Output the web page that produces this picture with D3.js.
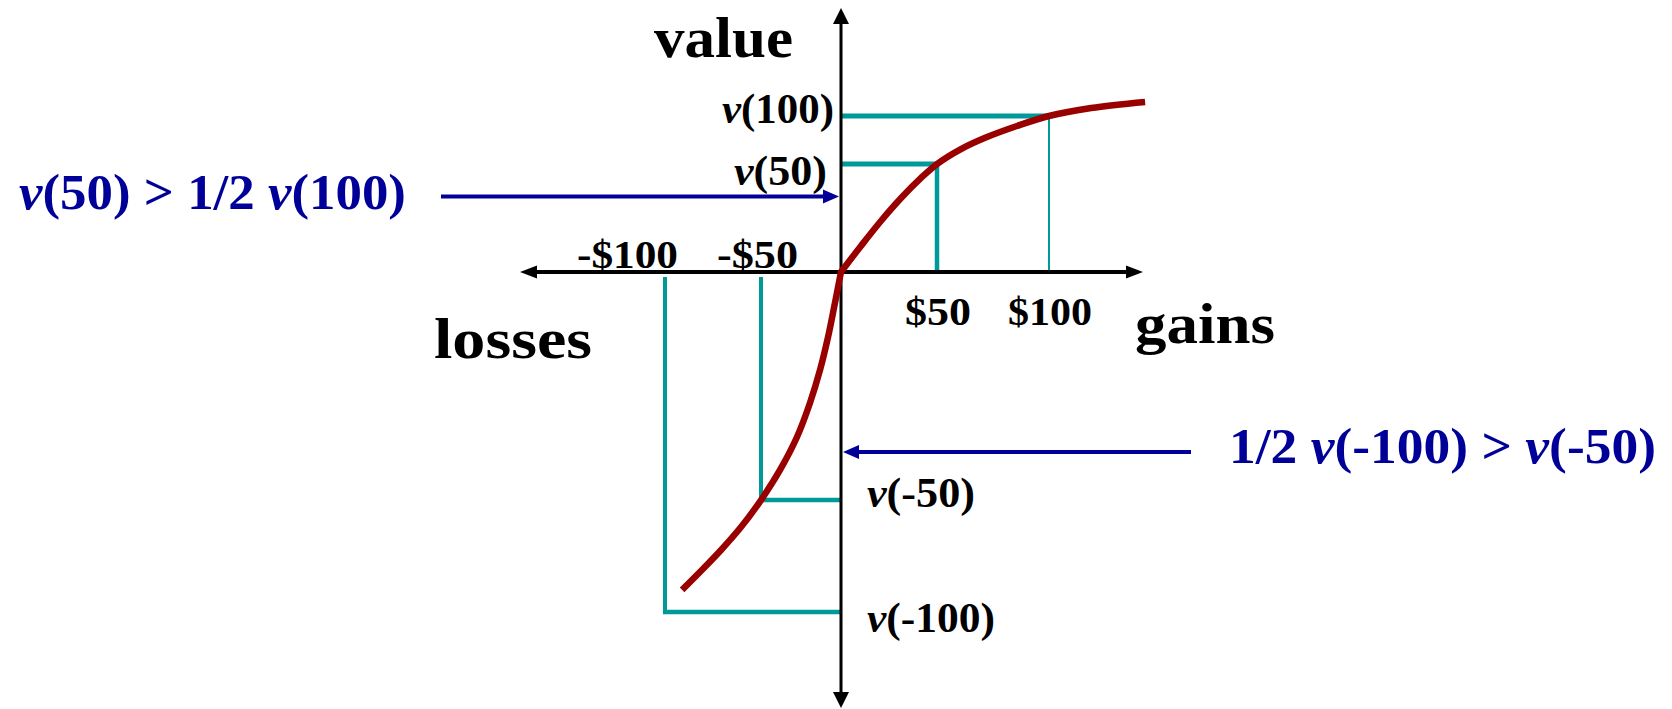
<!DOCTYPE html>
<html>
<head>
<meta charset="utf-8">
<script src="https://cdn.jsdelivr.net/npm/d3@7"></script>
<style>
  html, body { margin: 0; padding: 0; background: #fff; }
  svg { display: block; }
  text { font-family: "Liberation Serif", "DejaVu Serif", serif; font-weight: bold; }
</style>
</head>
<body>
<svg width="1672" height="709"></svg>
<script>
// value function: gains/losses in dollars -> value
const amounts = [-91.1, -81.3, -70.8, -60.4, -50, -38.1, -27.5, -19.4, -13.1, -8.1, -3.8, 0,
                 10.4, 20.8, 31.3, 41.7, 50, 60.7, 72.3, 85.7, 100, 118.8, 142.9];
const values  = [-203.8, -191.7, -178.2, -163.5, -146.2, -126.9, -105.8, -84, -62.8, -41.7, -19.9, 0,
                 16.7, 32.7, 47.4, 60.3, 69.2, 78.8, 86.5, 93.6, 100, 105.1, 109];

// marked points
const tickAmounts = [-100, -50, 50, 100];
const tickLabels  = ["-$100", "-$50", "$50", "$100"];
const tickValues  = [-217.9, -146.2, 69.2, 100];
const valueLabels = ["v(-100)", "v(-50)", "v(50)", "v(100)"];

const gainNote = "v(50) > 1/2 v(100)";
const lossNote = "1/2 v(-100) > v(-50)";

const svg = d3.select("svg");

// scales (the slide spaces its ticks unevenly, so a piecewise scale)
const x = d3.scaleLinear()
    .domain([-100, -50, 0, 50, 100])
    .range([665, 761, 841, 937, 1049]);
const y = d3.scaleLinear()
    .domain([0, 100])
    .range([272, 116]);

const teal = "#009999", red = "#990000", blue = "#000099";

// rich text: the "v" of v(...) is italic
function rich(sel, str) {
    str.split(/(v(?=\())/).filter(s => s.length).forEach(s => {
        sel.append("tspan")
            .attr("font-style", s === "v" ? "italic" : "normal")
            .text(s);
    });
    return sel;
}
function label(str, px, py, size, width, color) {
    const t = svg.append("text")
        .attr("x", px).attr("y", py)
        .attr("font-size", size)
        .attr("fill", color || "#000");
    rich(t, str);
    if (width) t.attr("textLength", width).attr("lengthAdjust", "spacingAndGlyphs");
    return t;
}

// teal guide lines
const guides = svg.append("g").attr("stroke", teal).attr("fill", "none");
tickAmounts.forEach((a, i) => {
    const v = tickValues[i];
    const gain = a > 0;
    // horizontal to the value axis
    guides.append("line")
        .attr("x1", x(0)).attr("x2", x(a) - (gain ? 0 : 2))
        .attr("y1", y(v)).attr("y2", y(v))
        .attr("stroke-width", gain ? 5 : 4.5);
    // vertical to the money axis
    guides.append("line")
        .attr("x1", x(a)).attr("x2", x(a))
        .attr("y1", y(v) - (gain ? 2.5 : -2))
        .attr("y2", gain ? y(0) : y(0) + 5)
        .attr("stroke-width", a === 100 ? 2 : (gain ? 4.5 : 4));
});

// axes with arrow heads
const axes = svg.append("g");
const y0 = y(0), x0 = x(0);
axes.append("line")
    .attr("x1", 530).attr("x2", 1133)
    .attr("y1", y0).attr("y2", y0)
    .attr("stroke", "#000").attr("stroke-width", 4);
axes.append("line")
    .attr("x1", x0).attr("x2", x0)
    .attr("y1", 18).attr("y2", 698)
    .attr("stroke", "#000").attr("stroke-width", 3);
axes.append("path").attr("d", `M520,${y0} L537,${y0 - 6.5} L537,${y0 + 6.5} Z`);
axes.append("path").attr("d", `M1143,${y0} L1126,${y0 - 6.5} L1126,${y0 + 6.5} Z`);
axes.append("path").attr("d", `M${x0},8 L${x0 - 8},24 L${x0 + 8},24 Z`);
axes.append("path").attr("d", `M${x0},708 L${x0 - 8},692 L${x0 + 8},692 Z`);

// value curve: losses and gains branches meet with a kink at the origin
const pts = d3.zip(amounts, values);
const curveLine = d3.line()
    .x(d => x(d[0]))
    .y(d => y(d[1]))
    .curve(d3.curveCatmullRom.alpha(0.5));
const lossPath = curveLine(pts.filter(d => d[0] <= 0));
const gainPath = curveLine(pts.filter(d => d[0] >= 0));
svg.append("path")
    .attr("fill", "none")
    .attr("stroke", red)
    .attr("stroke-width", 6.5)
    .attr("stroke-linejoin", "miter")
    .attr("d", lossPath + gainPath.replace(/^M/, "L"));

// blue annotation arrows
const notes = svg.append("g").attr("fill", blue);
notes.append("line")
    .attr("x1", 441).attr("x2", 826).attr("y1", 196.5).attr("y2", 196.5)
    .attr("stroke", blue).attr("stroke-width", 4);
notes.append("path").attr("d", "M839,196.5 L823,189.5 L823,203.5 Z");
notes.append("line")
    .attr("x1", 1191).attr("x2", 856).attr("y1", 452).attr("y2", 452)
    .attr("stroke", blue).attr("stroke-width", 4);
notes.append("path").attr("d", "M843,452 L859,445 L859,459 Z");

label(gainNote, 19, 209, 50, 387, blue);
label(lossNote, 1229, 463, 50, 427, blue);

// axis titles
label("value", 654, 57, 57, 139);
label("losses", 434, 358, 57, 158);
label("gains", 1135, 343, 57, 140);

// money tick labels
const tickLayout = [
    { x: 577, y: 268, w: 101 },
    { x: 717, y: 268, w: 81 },
    { x: 905, y: 325, w: 66 },
    { x: 1008, y: 325, w: 84 }
];
tickLabels.forEach((t, i) => {
    const L = tickLayout[i];
    label(t, L.x, L.y, 40, L.w);
});

// value labels, placed off their guide lines
const valueLayout = [
    { x: 867, dy: 20, w: 128 },
    { x: 867, dy: 7, w: 108 },
    { x: 734, dy: 21, w: 93 },
    { x: 722, dy: 7, w: 112 }
];
valueLabels.forEach((t, i) => {
    const L = valueLayout[i];
    label(t, L.x, y(tickValues[i]) + L.dy, 42, L.w);
});
</script>
</body>
</html>
